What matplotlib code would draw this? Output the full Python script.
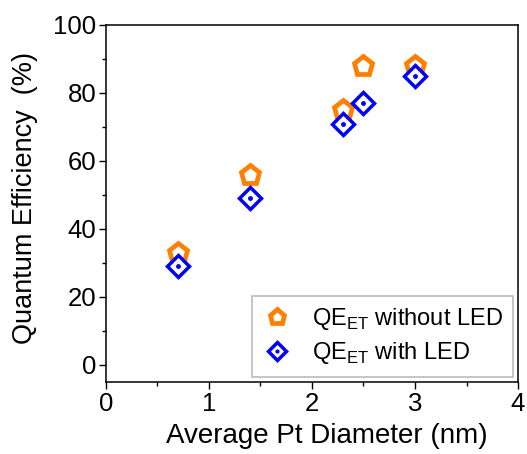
import matplotlib
matplotlib.use('Agg')
import matplotlib.pyplot as plt
from matplotlib.legend_handler import HandlerTuple
from matplotlib.ticker import MultipleLocator

plt.rcParams['font.family'] = ['Liberation Sans', 'DejaVu Sans']

# data
diameter = [0.7, 1.4, 2.3, 2.5, 3.0]
qe_without_led = [33, 56, 75, 88, 88]
qe_with_led = [29, 49, 71, 77, 85]

orange = '#ff7f00'
blue = '#0000ff'

fig = plt.figure(figsize=(5.27, 4.54), dpi=100)
ax = fig.add_axes([0.201, 0.159, 0.782, 0.786])

p1, = ax.plot(diameter, qe_without_led, linestyle='none', marker='p', markersize=14,
              markerfacecolor='white', markeredgecolor=orange, markeredgewidth=3.4)
p2, = ax.plot(diameter, qe_with_led, linestyle='none', marker='D', markersize=11.5,
              markerfacecolor='white', markeredgecolor=blue, markeredgewidth=2.5)
p2dot, = ax.plot(diameter, qe_with_led, linestyle='none', marker='o', markersize=2.5,
                 color=blue)

ax.set_xlim(0, 4)
ax.set_ylim(-5, 100)
ax.xaxis.set_major_locator(MultipleLocator(1))
ax.xaxis.set_minor_locator(MultipleLocator(0.5))
ax.yaxis.set_major_locator(MultipleLocator(20))
ax.yaxis.set_minor_locator(MultipleLocator(10))
ax.tick_params(which='both', direction='out', top=False, right=False, labelsize=18.5, pad=2)
ax.tick_params(which='major', length=5, width=1)
ax.tick_params(which='minor', length=3, width=1)
for s in ax.spines.values():
    s.set_linewidth(1.1)

ax.set_xlabel('Average Pt Diameter (nm)', fontsize=20)
ax.set_ylabel('Quantum Efficiency  (%)', fontsize=19.5)
ax.xaxis.set_label_coords(0.536, -0.115)
ax.yaxis.set_label_coords(-0.165, 0.515)

leg = ax.legend([p1, (p2, p2dot)],
                ['QE$_\\mathregular{ET}$ without LED', 'QE$_\\mathregular{ET}$ with LED'],
                handler_map={tuple: HandlerTuple(ndivide=1)},
                loc='lower right', fontsize=17, frameon=True, fancybox=False,
                edgecolor='#aaaaaa', handlelength=1.3, borderaxespad=0.2,
                handletextpad=0.8, borderpad=0.45, labelspacing=0.35, markerscale=0.8)
leg.get_frame().set_linewidth(1.2)

fig.savefig('out.png', dpi=100)
